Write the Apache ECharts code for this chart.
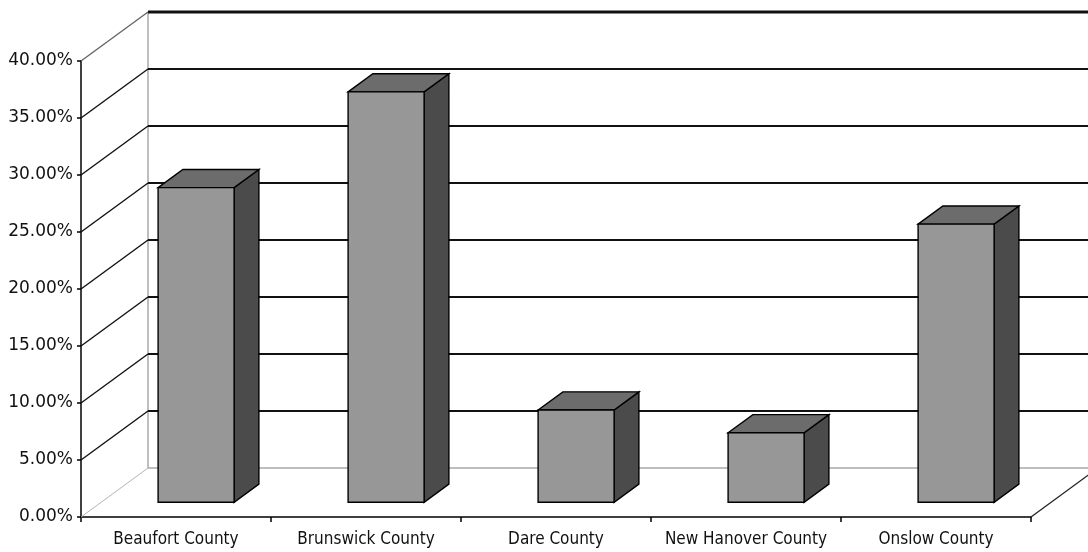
<!DOCTYPE html>
<html>
<head>
<meta charset="utf-8">
<script src="https://cdn.jsdelivr.net/npm/echarts@6/dist/echarts.min.js"></script>
<style>
  html, body { margin: 0; padding: 0; background: #fff; }
  #chart { width: 1088px; height: 552px; }
</style>
</head>
<body>
<div id="chart"></div>
<script>
// Share by county (percent)
const counties = ['Beaufort County', 'Brunswick County', 'Dare County', 'New Hanover County', 'Onslow County'];
const shares = [27.6, 36.0, 8.1, 6.1, 24.4];
const yTicks = [0, 5, 10, 15, 20, 25, 30, 35, 40];

// Oblique depth of the plot box, in pixels
const DEPTH_X = 67, DEPTH_Y = 49;
// Each column sits in this slice of the depth and uses this part of its band
const BAR_NEAR = 0.3, BAR_FAR = 0.67, BAR_W = 0.4;

const chart = echarts.init(document.getElementById('chart'), null, { renderer: 'canvas' });

// Side wall diagonals, back wall gridlines and box edges
function wallItem(params, api) {
  const cs = params.coordSys;
  const v = api.value(1);
  const y = api.coord([0, v])[1];
  const x0 = cs.x, x1 = cs.x + cs.width;
  const bx0 = x0 + DEPTH_X, bx1 = x1 + DEPTH_X, by = y - DEPTH_Y;
  const isFloor = v === 0;
  const isTop = v === yTicks[yTicks.length - 1];
  const children = [
    { type: 'line', shape: { x1: x0, y1: y, x2: bx0, y2: by },
      style: { stroke: isFloor ? '#b4b4b4' : (isTop ? '#666' : '#111'), lineWidth: isFloor ? 1 : 1.4 } },
    { type: 'line', shape: { x1: bx0, y1: by, x2: bx1, y2: by },
      style: { stroke: isFloor ? '#a8a8a8' : '#111', lineWidth: isTop ? 3 : (isFloor ? 1.5 : 2) } }
  ];
  if (isFloor) {
    const yTop = api.coord([0, yTicks[yTicks.length - 1]])[1] - DEPTH_Y;
    children.push({ type: 'line', shape: { x1: x1, y1: y, x2: bx1, y2: by },
      style: { stroke: '#222', lineWidth: 1.3 } });
    children.push({ type: 'line', shape: { x1: bx0, y1: by, x2: bx0, y2: yTop },
      style: { stroke: '#a8a8a8', lineWidth: 1.5 } });
  }
  return { type: 'group', children };
}

// 3D columns: front face, top and right side
function barItem(params, api) {
  const i = api.value(0), v = api.value(1);
  const top = api.coord([i, v]);
  const base = api.coord([i, 0]);
  const band = api.size([1, 0])[0];
  const w = band * BAR_W;
  const nx = BAR_NEAR * DEPTH_X, ny = BAR_NEAR * DEPTH_Y;
  const dx = (BAR_FAR - BAR_NEAR) * DEPTH_X, dy = (BAR_FAR - BAR_NEAR) * DEPTH_Y;
  const l = top[0] - w / 2 + nx, r = l + w;
  const t = top[1] - ny, b = base[1] - ny;
  const edge = { stroke: '#000', lineWidth: 1.4, lineJoin: 'miter' };
  return {
    type: 'group',
    children: [
      { type: 'polygon', shape: { points: [[r, t], [r + dx, t - dy], [r + dx, b - dy], [r, b]] },
        style: Object.assign({ fill: '#4b4b4b' }, edge) },
      { type: 'polygon', shape: { points: [[l, t], [r, t], [r + dx, t - dy], [l + dx, t - dy]] },
        style: Object.assign({ fill: '#6c6c6c' }, edge) },
      { type: 'rect', shape: { x: l, y: t, width: w, height: b - t },
        style: Object.assign({ fill: '#979797' }, edge) }
    ]
  };
}

chart.setOption({
  animation: false,
  backgroundColor: '#fff',
  grid: { left: 81, right: 57, top: 61, bottom: 35, containLabel: false },
  xAxis: {
    type: 'category',
    data: counties,
    boundaryGap: true,
    axisLine: { lineStyle: { color: '#000', width: 1.5 } },
    axisTick: { show: true, interval: 0, alignWithLabel: false, length: 5, lineStyle: { color: '#000', width: 1.5 } },
    axisLabel: { interval: 0, margin: 14, color: '#111', fontFamily: 'DejaVu Sans Condensed', fontSize: 17 },
    splitLine: { show: false }
  },
  yAxis: {
    type: 'value',
    min: 0, max: 40, interval: 5,
    axisLine: { show: true, lineStyle: { color: '#000', width: 1.5 } },
    axisTick: { show: true, length: 4, lineStyle: { color: '#000', width: 1.5 } },
    axisLabel: { margin: 8, color: '#111', fontFamily: 'DejaVu Sans', fontSize: 17,
      formatter: v => v.toFixed(2) + '%' },
    splitLine: { show: false }
  },
  series: [
    { type: 'custom', name: 'walls', renderItem: wallItem, silent: true, clip: false, z: 1,
      encode: { x: 0, y: 1 }, data: yTicks.map(v => [0, v]) },
    { type: 'custom', name: 'share', renderItem: barItem, clip: false, z: 2,
      encode: { x: 0, y: 1 }, data: shares.map((v, i) => [i, v]) }
  ]
});
</script>
</body>
</html>
